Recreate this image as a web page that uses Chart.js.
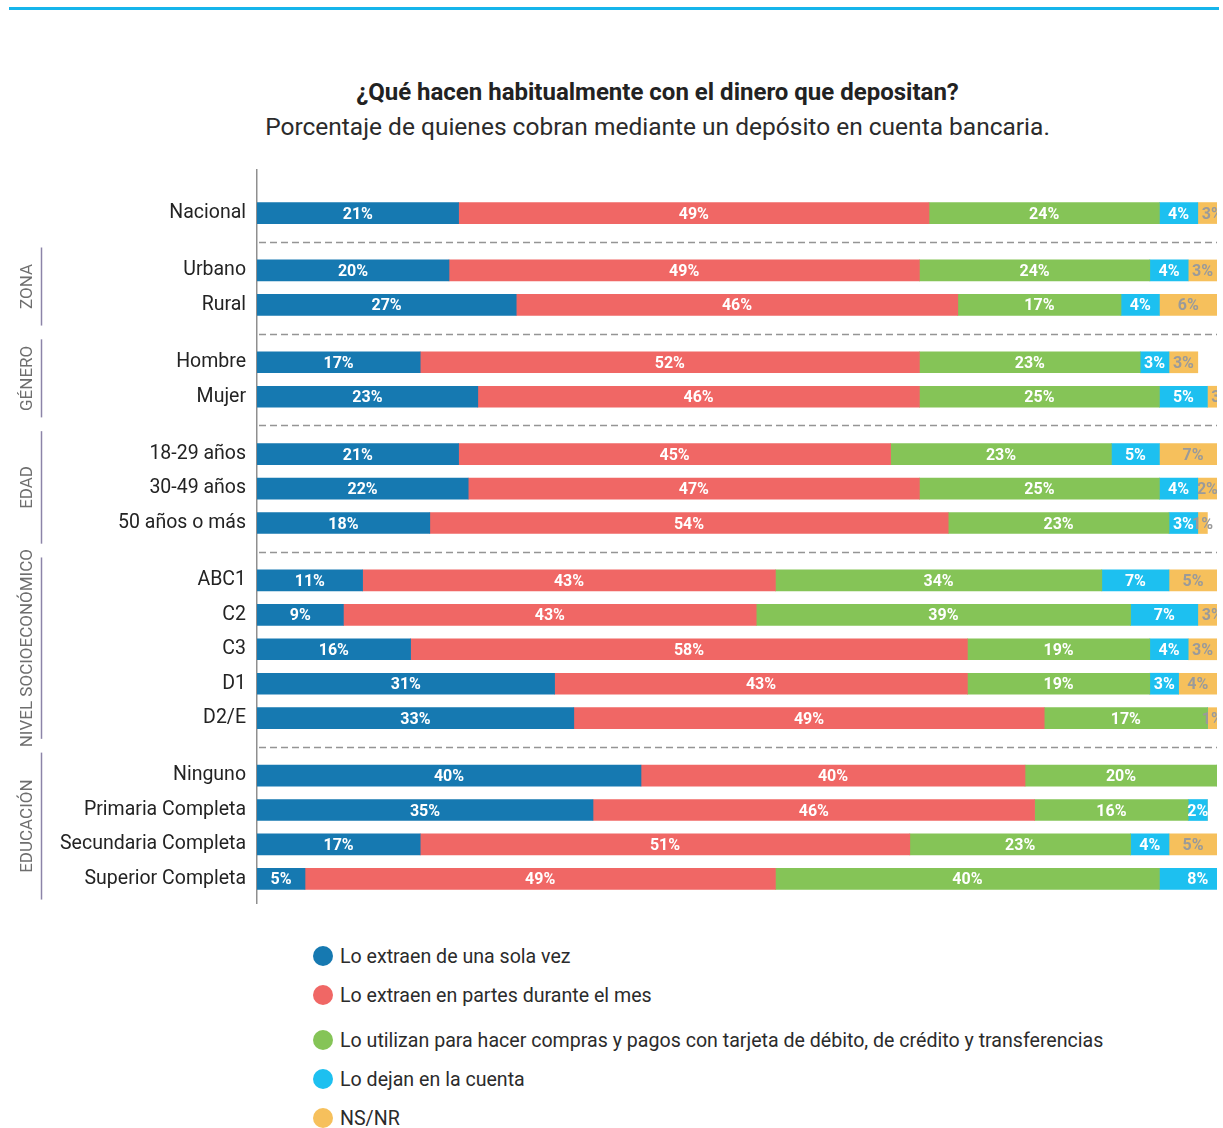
<!doctype html>
<html lang="es">
  <head>
    <meta charset="UTF-8" />
    <title>¿Qué hacen habitualmente con el dinero que depositan?</title>
    <script src="https://cdn.jsdelivr.net/npm/chart.js"></script>
    <style>
      body {
        margin: 0;
        width: 1223px;
        height: 1128px;
        position: relative;
        background: #fff;
        font-family: Roboto, 'Noto Sans', sans-serif;
        color: #222;
        overflow: hidden;
      }
      .topline {
        position: absolute;
        left: 9px;
        top: 7px;
        width: 1210px;
        height: 3px;
        background: #16b5eb;
      }
      .titles {
        position: absolute;
        left: 92px;
        right: 0;
        top: 77px;
        text-align: center;
      }
      .titles h1 {
        margin: 0;
        font-size: 24px;
        font-weight: 700;
        line-height: 30px;
        color: #222;
      }
      .titles p {
        margin: 5px 0 0;
        font-size: 24.5px;
        line-height: 30px;
        color: #2b2b2b;
      }
      .chart-box {
        position: absolute;
        left: 0;
        top: 150px;
        width: 1223px;
        height: 770px;
      }
      .legend {
        position: absolute;
        left: 313px;
        top: 946px;
        margin: 0;
        padding: 0;
        list-style: none;
      }
      .legend li {
        display: flex;
        align-items: center;
        height: 20px;
        margin-bottom: 19px;
        font-size: 19.6px;
        color: #2b2b2b;
      }
      .legend li:nth-child(2) {
        margin-bottom: 25px;
      }
      .legend .dot {
        width: 20px;
        height: 20px;
        border-radius: 50%;
        margin-right: 7px;
        flex: none;
      }
    </style>
  </head>
  <body>
    <div class="topline"></div>
    <div class="titles">
      <h1>¿Qué hacen habitualmente con el dinero que depositan?</h1>
      <p>Porcentaje de quienes cobran mediante un depósito en cuenta bancaria.</p>
    </div>
    <div class="chart-box"><canvas id="chart"></canvas></div>
    <ul class="legend" id="legend"></ul>

    <script>
      // Rows, top to bottom, and the blocks they belong to
      const categories = [
        'Nacional',
        'Urbano', 'Rural',
        'Hombre', 'Mujer',
        '18-29 años', '30-49 años', '50 años o más',
        'ABC1', 'C2', 'C3', 'D1', 'D2/E',
        'Ninguno', 'Primaria Completa', 'Secundaria Completa', 'Superior Completa',
      ];
      const groupNames = ['', 'ZONA', 'GÉNERO', 'EDAD', 'NIVEL SOCIOECONÓMICO', 'EDUCACIÓN'];
      const groupSizes = [1, 2, 2, 3, 5, 4];

      const seriesNames = [
        'Lo extraen de una sola vez',
        'Lo extraen en partes durante el mes',
        'Lo utilizan para hacer compras y pagos con tarjeta de débito, de crédito y transferencias',
        'Lo dejan en la cuenta',
        'NS/NR',
      ];
      const extraenUnaVez = [21, 20, 27, 17, 23, 21, 22, 18, 11, 9, 16, 31, 33, 40, 35, 17, 5];
      const extraenEnPartes = [49, 49, 46, 52, 46, 45, 47, 54, 43, 43, 58, 43, 49, 40, 46, 51, 49];
      const comprasYPagos = [24, 24, 17, 23, 25, 23, 25, 23, 34, 39, 19, 19, 17, 20, 16, 23, 40];
      const dejanEnCuenta = [4, 4, 4, 3, 5, 5, 4, 3, 7, 7, 4, 3, 0, 0, 2, 4, 8];
      const nsnr = [3, 3, 6, 3, 3, 7, 2, 1, 5, 3, 3, 4, 1, 0, 0, 5, 1];

      const colors = ['#1679b1', '#f06765', '#85c457', '#1dc0f0', '#f6c05c'];
      const labelColors = ['#fff', '#fff', '#fff', '#fff', '#9a9a9a'];

      // vertical slot of each row: 3 units between rows, 2 extra between blocks
      const rowGroup = [];
      groupSizes.forEach((n, g) => {
        for (let k = 0; k < n; k++) rowGroup.push(g);
      });
      const rowPos = categories.map((_, i) => i * 3 + rowGroup[i] * 2);

      const seriesValues = [extraenUnaVez, extraenEnPartes, comprasYPagos, dejanEnCuenta, nsnr];

      // html legend
      const legendEl = document.getElementById('legend');
      seriesNames.forEach((name, i) => {
        const li = document.createElement('li');
        li.innerHTML = `<span class="dot" style="background:${colors[i]}"></span>${name}`;
        legendEl.appendChild(li);
      });

      const decorations = {
        id: 'decorations',
        afterDatasetsDraw(chart) {
          const { ctx, chartArea } = chart;
          const y = chart.scales.y;

          // dashed separators between blocks
          ctx.save();
          ctx.strokeStyle = '#959595';
          ctx.lineWidth = 1.5;
          ctx.setLineDash([7, 4]);
          let start = 0;
          groupSizes.forEach((n, g) => {
            if (g > 0) {
              const py = Math.round(y.getPixelForValue(rowPos[start - 1] + 2.5)) + 0.5;
              ctx.beginPath();
              ctx.moveTo(chartArea.left + 2, py);
              ctx.lineTo(chartArea.right, py);
              ctx.stroke();
            }
            start += n;
          });
          ctx.restore();

          // block brackets and rotated block names
          ctx.save();
          start = 0;
          groupSizes.forEach((n, g) => {
            const first = start;
            const last = start + n - 1;
            start += n;
            if (!groupNames[g]) return;
            const top = y.getPixelForValue(rowPos[first] - 2);
            const bottom = y.getPixelForValue(rowPos[last] + 1.8);
            ctx.strokeStyle = '#8c84a8';
            ctx.lineWidth = 1.5;
            ctx.beginPath();
            ctx.moveTo(41.5, top);
            ctx.lineTo(41.5, bottom);
            ctx.stroke();

            ctx.save();
            ctx.translate(28, (top + bottom) / 2);
            ctx.rotate(-Math.PI / 2);
            ctx.fillStyle = '#6e6e6e';
            ctx.font = '17px Roboto';
            ctx.textAlign = 'center';
            ctx.textBaseline = 'middle';
            ctx.fillText(groupNames[g], 0, 0);
            ctx.restore();
          });
          ctx.restore();

          // percentage labels inside the segments
          ctx.save();
          ctx.beginPath();
          ctx.rect(chartArea.left, chartArea.top, chartArea.width, chartArea.height);
          ctx.clip();
          ctx.font = 'bold 16px Roboto';
          ctx.textAlign = 'center';
          ctx.textBaseline = 'middle';
          chart.data.datasets.forEach((ds, di) => {
            const meta = chart.getDatasetMeta(di);
            ctx.fillStyle = labelColors[di];
            meta.data.forEach((bar, i) => {
              const v = seriesValues[di][i];
              if (!v) return;
              ctx.fillText(v + '%', (bar.x + bar.base) / 2, bar.y + 1.5);
            });
          });
          ctx.restore();
        },
      };

      new Chart(document.getElementById('chart'), {
        type: 'bar',
        data: {
          datasets: seriesValues.map((vals, di) => ({
            label: seriesNames[di],
            data: vals.map((v, i) => ({ x: v, y: rowPos[i] })),
            backgroundColor: colors[di],
            barThickness: 21,
            borderWidth: 0,
          })),
        },
        options: {
          indexAxis: 'y',
          responsive: true,
          maintainAspectRatio: false,
          animation: false,
          layout: { padding: { top: 20, bottom: 17, left: 0, right: 6 } },
          plugins: {
            legend: { display: false },
            tooltip: { enabled: false },
          },
          scales: {
            x: {
              type: 'linear',
              stacked: true,
              min: 0,
              max: 100,
              display: false,
            },
            y: {
              type: 'linear',
              stacked: true,
              reverse: true,
              offset: false,
              bounds: 'data',
              min: -3.75,
              max: 60.1,
              grid: { display: false, drawTicks: false, offset: false },
              border: { display: true, color: '#8f8f8f', width: 1.5 },
              afterFit: (scale) => {
                // fixed label column, and no extra room for edge labels
                scale.width = 257;
                scale.paddingTop = 0;
                scale.paddingBottom = 0;
              },
              afterBuildTicks: (scale) => {
                scale.ticks = rowPos.map((v) => ({ value: v }));
              },
              ticks: {
                autoSkip: false,
                padding: 11,
                color: '#232323',
                font: { family: 'Roboto', size: 19.5 },
                callback: (value, index) => categories[index],
              },
            },
          },
        },
        plugins: [decorations],
      });
    </script>
  </body>
</html>
